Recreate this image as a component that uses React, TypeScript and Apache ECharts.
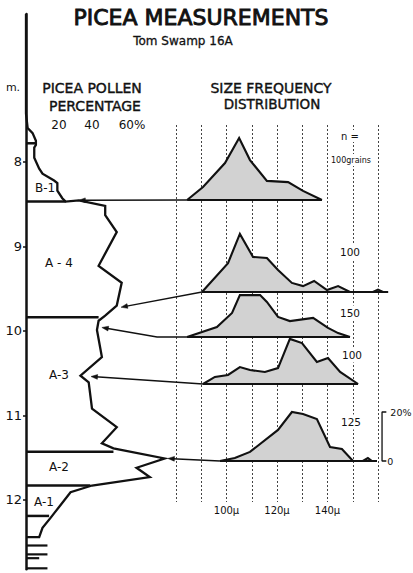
import React, { useEffect, useRef } from 'react';
import * as echarts from 'echarts';

// ---------- tick labels ----------
const depthTicks = [8, 9, 10, 11, 12];
const pctTicks = [20, 40, 60];
const sizeTicks = [100, 120, 140];

// ---------- Picea pollen percentage curve (pct, depth m) ----------
const pollenDepth = [6.25, 7.43, 7.6, 7.66, 7.75, 7.8, 7.83, 7.95, 8.08, 8.14, 8.22, 8.25, 8.34, 8.43, 8.47, 8.455, 8.52, 8.63, 8.83, 9.23, 9.43, 9.7, 9.82, 9.88, 9.99, 10.31, 10.53, 10.61, 10.92, 11.14, 11.33, 11.39, 11.51, 11.62, 11.73, 11.83, 11.91, 12.16, 12.21, 12.33, 12.44, 12.44];
const pollenPct = [0, 0, 1, 4, 6, 6, 5, 5, 8, 10, 17, 19, 19, 22, 24, 32, 48, 48, 55, 44, 58, 55, 48, 44, 43, 46, 33, 38, 40, 55, 46, 53, 84, 67, 75, 40, 27, 17, 15, 10, 8, 0];

// zone boundaries (depth m) and where each stops (pct)
const zoneDepths = [7.78, 8.47, 9.84, 11.43, 11.83, 12.19];
const zoneEndPct = [6, 24, 44, 53, 39, 14];
const zoneNames = ['B-1', 'A - 4', 'A-3', 'A-2', 'A-1'];

// lowest samples (short bars)
const lowerDepths = [12.54, 12.645, 12.69, 12.81];
const lowerPct = [13, 13, 8, 13];

// ---------- size frequency distributions (size µ, frequency %) ----------
const b1Size = [84.4, 90.7, 99.4, 105, 109.3, 116, 124.4, 130.3, 137.8];
const b1Freq = [0, 5.3, 15.1, 25.3, 16.3, 7.8, 7.3, 3.7, 0];

const a4Size = [90.3, 100.6, 105.3, 110.5, 116, 120.4, 125.9, 130.3, 134.7, 139.8, 144.2, 148.9, 158, 160, 162, 164];
const a4Freq = [0, 11.8, 23.7, 14.3, 13.9, 9, 3.7, 2.4, 4.5, 0.8, 2.4, 0, 0, 1, 0, 0];

const a3uSize = [84.4, 96.2, 102.2, 105.3, 113.3, 116, 120.4, 125.1, 134.3, 140.2, 144.2, 148.9];
const a3uFreq = [0, 4.1, 9.8, 17.1, 17.1, 14.3, 8.2, 6.5, 7.8, 3.7, 1.6, 0];

const a3lSize = [90.7, 95.4, 100.6, 105.3, 109.3, 115.2, 120.4, 125.1, 129.9, 135.8, 140.2, 145, 152.1];
const a3lFreq = [0, 2.9, 3.7, 6.9, 5.7, 4.9, 6.5, 18.4, 16.7, 9, 10.6, 4.9, 0];

const a2Size = [97.4, 103.3, 109.3, 120.4, 125.9, 130.3, 135.8, 141, 145.7, 150.1, 154, 156, 157.6, 159.6];
const a2Freq = [0, 1.2, 3.7, 12.7, 20, 19.2, 17.1, 5.7, 4.9, 0, 0, 1.2, 0, 0];

const distSizes = [b1Size, a4Size, a3uSize, a3lSize, a2Size];
const distFreqs = [b1Freq, a4Freq, a3uFreq, a3lFreq, a2Freq];
const sampleN = ['', '100', '150', '100', '125'];

// arrows: sample positions on the pollen curve (pct, depth)
const arrowTipPct = [32, 57.6, 46, 39.4, 86];
const arrowTipDepth = [8.455, 9.72, 9.96, 10.54, 11.51];
const arrowElbowSize: (number | null)[] = [null, null, 72.5, null, null];

const scaleBarFreq = [20, 0];
const scaleBarLabels = ['20%', '0'];

// ---------- layout ----------
const FONT = 'DejaVu Sans';
const INK = '#111';
const D_MIN = 6.25;
const D_MAX = 12.82;
const PX_PER_M = 84.5;
const LEFT_X = 26;
const MU_LEFT = 176;
const PX_PER_MU = 2.525;
const MU_MIN = 80;
const MU_MAX = 166;
const FREQ_MAX = 30;
const PX_PER_FREQ = 2.45;
const distBaselines = [200, 292, 337, 384, 461];
const nLabelPos = [[0, 0], [350, 252], [350, 313], [352, 355], [351, 422]];
const zoneLabelPos = [[45, 188], [59, 263], [59, 375], [59, 467], [44, 502]];

function buildOption(extraGraphic: any[]) {
  const grids: any[] = [
    { left: LEFT_X, top: 14, width: 165, height: (D_MAX - D_MIN) * PX_PER_M },
    { left: LEFT_X, top: 133, width: 165, height: 1 },
    { left: MU_LEFT, top: 125, width: 80 * PX_PER_MU, height: 377 },
  ];
  const xAxes: any[] = [
    { gridIndex: 0, type: 'value', min: 0, max: 100, show: false },
    {
      gridIndex: 1, type: 'value', min: 0, max: 100, position: 'top',
      axisLine: { show: false }, axisTick: { show: false }, splitLine: { show: false },
      axisLabel: {
        customValues: pctTicks, margin: 2, color: INK, fontFamily: FONT, fontSize: 12,
        formatter: (v: number) => (v === pctTicks[pctTicks.length - 1] ? `{p|${v}%}` : `${v}`),
        rich: { p: { padding: [0, 0, 0, 14], fontFamily: FONT, fontSize: 12, color: INK } },
      },
    },
    {
      gridIndex: 2, type: 'value', min: 80, max: 160, interval: 10,
      axisLine: { show: false }, axisTick: { show: false },
      splitLine: { show: true, lineStyle: { type: [2, 2], color: '#444', width: 1 } },
      axisLabel: { customValues: sizeTicks, margin: 3, color: INK, fontFamily: FONT, fontSize: 10, formatter: (v: number) => `${v}μ` },
    },
  ];
  const yAxes: any[] = [
    {
      gridIndex: 0, type: 'value', inverse: true, min: D_MIN, max: D_MAX,
      axisLine: { show: true, lineStyle: { color: INK, width: 2.5 } },
      axisTick: { show: true, customValues: depthTicks, length: 3, lineStyle: { color: INK, width: 1.5 } },
      axisLabel: { customValues: depthTicks, margin: 4, color: INK, fontFamily: FONT, fontSize: 13 },
      splitLine: { show: false },
    },
    { gridIndex: 1, type: 'value', show: false },
    { gridIndex: 2, type: 'value', min: 0, max: 1, show: false },
  ];
  const series: any[] = [];

  series.push({
    type: 'line', xAxisIndex: 0, yAxisIndex: 0, symbol: 'none', clip: false, z: 4,
    data: pollenPct.map((p, i) => [p, pollenDepth[i]]),
    lineStyle: { color: INK, width: 2.3, join: 'miter' },
  });
  zoneDepths.forEach((d, i) => {
    series.push({
      type: 'line', xAxisIndex: 0, yAxisIndex: 0, symbol: 'none', clip: false, z: 4,
      data: [[0, d], [zoneEndPct[i], d]], lineStyle: { color: INK, width: 2.5 },
    });
  });
  lowerDepths.forEach((d, i) => {
    series.push({
      type: 'line', xAxisIndex: 0, yAxisIndex: 0, symbol: 'none', clip: false, z: 4,
      data: [[0, d], [lowerPct[i], d]], lineStyle: { color: INK, width: 2.2 },
    });
  });

  distSizes.forEach((sizes, k) => {
    const gi = 3 + k;
    const b = distBaselines[k];
    grids.push({ left: MU_LEFT, top: b - FREQ_MAX * PX_PER_FREQ, width: (MU_MAX - MU_MIN) * PX_PER_MU, height: FREQ_MAX * PX_PER_FREQ });
    xAxes.push({ gridIndex: gi, type: 'value', min: MU_MIN, max: MU_MAX, show: false });
    yAxes.push({ gridIndex: gi, type: 'value', min: 0, max: FREQ_MAX, show: false });
    const freqs = distFreqs[k];
    series.push({
      type: 'line', xAxisIndex: gi, yAxisIndex: gi, symbol: 'none', clip: false, z: 3,
      data: sizes.map((s, i) => [s, freqs[i]]),
      lineStyle: { color: INK, width: 2.1, join: 'miter' },
      areaStyle: { color: '#d2d2d2', opacity: 1 },
    });
    series.push({
      type: 'line', xAxisIndex: gi, yAxisIndex: gi, symbol: 'none', clip: false, z: 4,
      data: [[sizes[0], 0], [sizes[sizes.length - 1], 0]],
      lineStyle: { color: INK, width: 2.2 },
    });
  });

  // scale bar in last distribution grid
  const last = 3 + distSizes.length - 1;
  series.push({
    type: 'line', xAxisIndex: last, yAxisIndex: last, symbol: 'none', clip: false, z: 4,
    data: [[163.3, scaleBarFreq[0]], [161.6, scaleBarFreq[0]], [161.6, scaleBarFreq[1]], [163.3, scaleBarFreq[1]]],
    lineStyle: { color: INK, width: 1.3 },
  });

  return {
    animation: false,
    backgroundColor: '#fff',
    grid: grids,
    xAxis: xAxes,
    yAxis: yAxes,
    series,
    graphic: extraGraphic,
  };
}

function txt(x: number, y: number, text: string, size: number, opts: any = {}) {
  return {
    type: 'text', x, y, z: 10,
    style: {
      text, fill: INK, font: `${size}px "${FONT}"`,
      align: opts.align || 'center', verticalAlign: 'middle',
      stroke: opts.sw ? INK : undefined, lineWidth: opts.sw || 0,
      backgroundColor: opts.bg, padding: opts.pad,
    },
  };
}

function staticTexts() {
  const g: any[] = [
    txt(201, 17, 'PICEA MEASUREMENTS', 22, { sw: 0.9 }),
    txt(183, 41, 'Tom Swamp 16A', 12, { sw: 0.3 }),
    txt(92, 88, 'PICEA POLLEN', 14, { sw: 0.4 }),
    txt(95, 106, 'PERCENTAGE', 14, { sw: 0.4 }),
    txt(271, 88, 'SIZE FREQUENCY', 14, { sw: 0.4 }),
    txt(272, 104, 'DISTRIBUTION', 13.5, { sw: 0.4 }),
    txt(13, 87, 'm.', 11),
    txt(350, 136, 'n =', 10, { bg: '#fff', pad: [1, 2] }),
    txt(351, 160, '100grains', 8, { bg: '#fff', pad: [2, 1] }),
  ];
  zoneNames.forEach((n, i) => g.push(txt(zoneLabelPos[i][0], zoneLabelPos[i][1], n, 12)));
  sampleN.forEach((n, i) => {
    if (n) g.push(txt(nLabelPos[i][0], nLabelPos[i][1], n, 10.5, { bg: '#fff', pad: [2, 1] }));
  });
  return g;
}

function dynamicGraphics(chart: any) {
  const g: any[] = [];
  distSizes.forEach((sizes, k) => {
    const gi = 3 + k;
    const start = chart.convertToPixel({ gridIndex: gi }, [sizes[0], 0]);
    const tip = chart.convertToPixel({ gridIndex: 0 }, [arrowTipPct[k], arrowTipDepth[k]]);
    const pts: number[][] = [start];
    const el = arrowElbowSize[k];
    if (el != null) pts.push(chart.convertToPixel({ gridIndex: gi }, [el, 0]));
    const prev = pts[pts.length - 1];
    const dx = tip[0] - prev[0];
    const dy = tip[1] - prev[1];
    const len = Math.hypot(dx, dy) || 1;
    const ux = dx / len, uy = dy / len;
    const L = 6.5, W = 2.4;
    const bx = tip[0] - ux * L, by = tip[1] - uy * L;
    pts.push([bx + ux * 2, by + uy * 2]);
    g.push({ type: 'polyline', z: 5, shape: { points: pts }, style: { stroke: INK, lineWidth: 1.4, fill: null } });
    g.push({
      type: 'polygon', z: 5,
      shape: { points: [tip, [bx - uy * W, by + ux * W], [bx + uy * W, by - ux * W]] },
      style: { fill: INK, stroke: INK, lineWidth: 0.5 },
    });
  });
  const last = 3 + distSizes.length - 1;
  const top = chart.convertToPixel({ gridIndex: last }, [163.3, scaleBarFreq[0]]);
  const bot = chart.convertToPixel({ gridIndex: last }, [163.3, scaleBarFreq[1]]);
  g.push(txt(top[0] + 4, top[1], scaleBarLabels[0], 9.5, { align: 'left' }));
  g.push(txt(bot[0] + 1, bot[1], scaleBarLabels[1], 9.5, { align: 'left' }));
  return g;
}

export default function App() {
  const ref = useRef<HTMLDivElement>(null);
  useEffect(() => {
    const el = ref.current;
    if (!el) return;
    const chart = echarts.init(el, null, { renderer: 'svg' });
    chart.setOption(buildOption(staticTexts()));
    const dyn = dynamicGraphics(chart);
    chart.setOption(buildOption([...staticTexts(), ...dyn]), true);
    return () => chart.dispose();
  }, []);
  return (
    <div
      ref={ref}
      style={{ position: 'fixed', left: 0, top: 0, width: 413, height: 573, background: '#fff' }}
    />
  );
}
